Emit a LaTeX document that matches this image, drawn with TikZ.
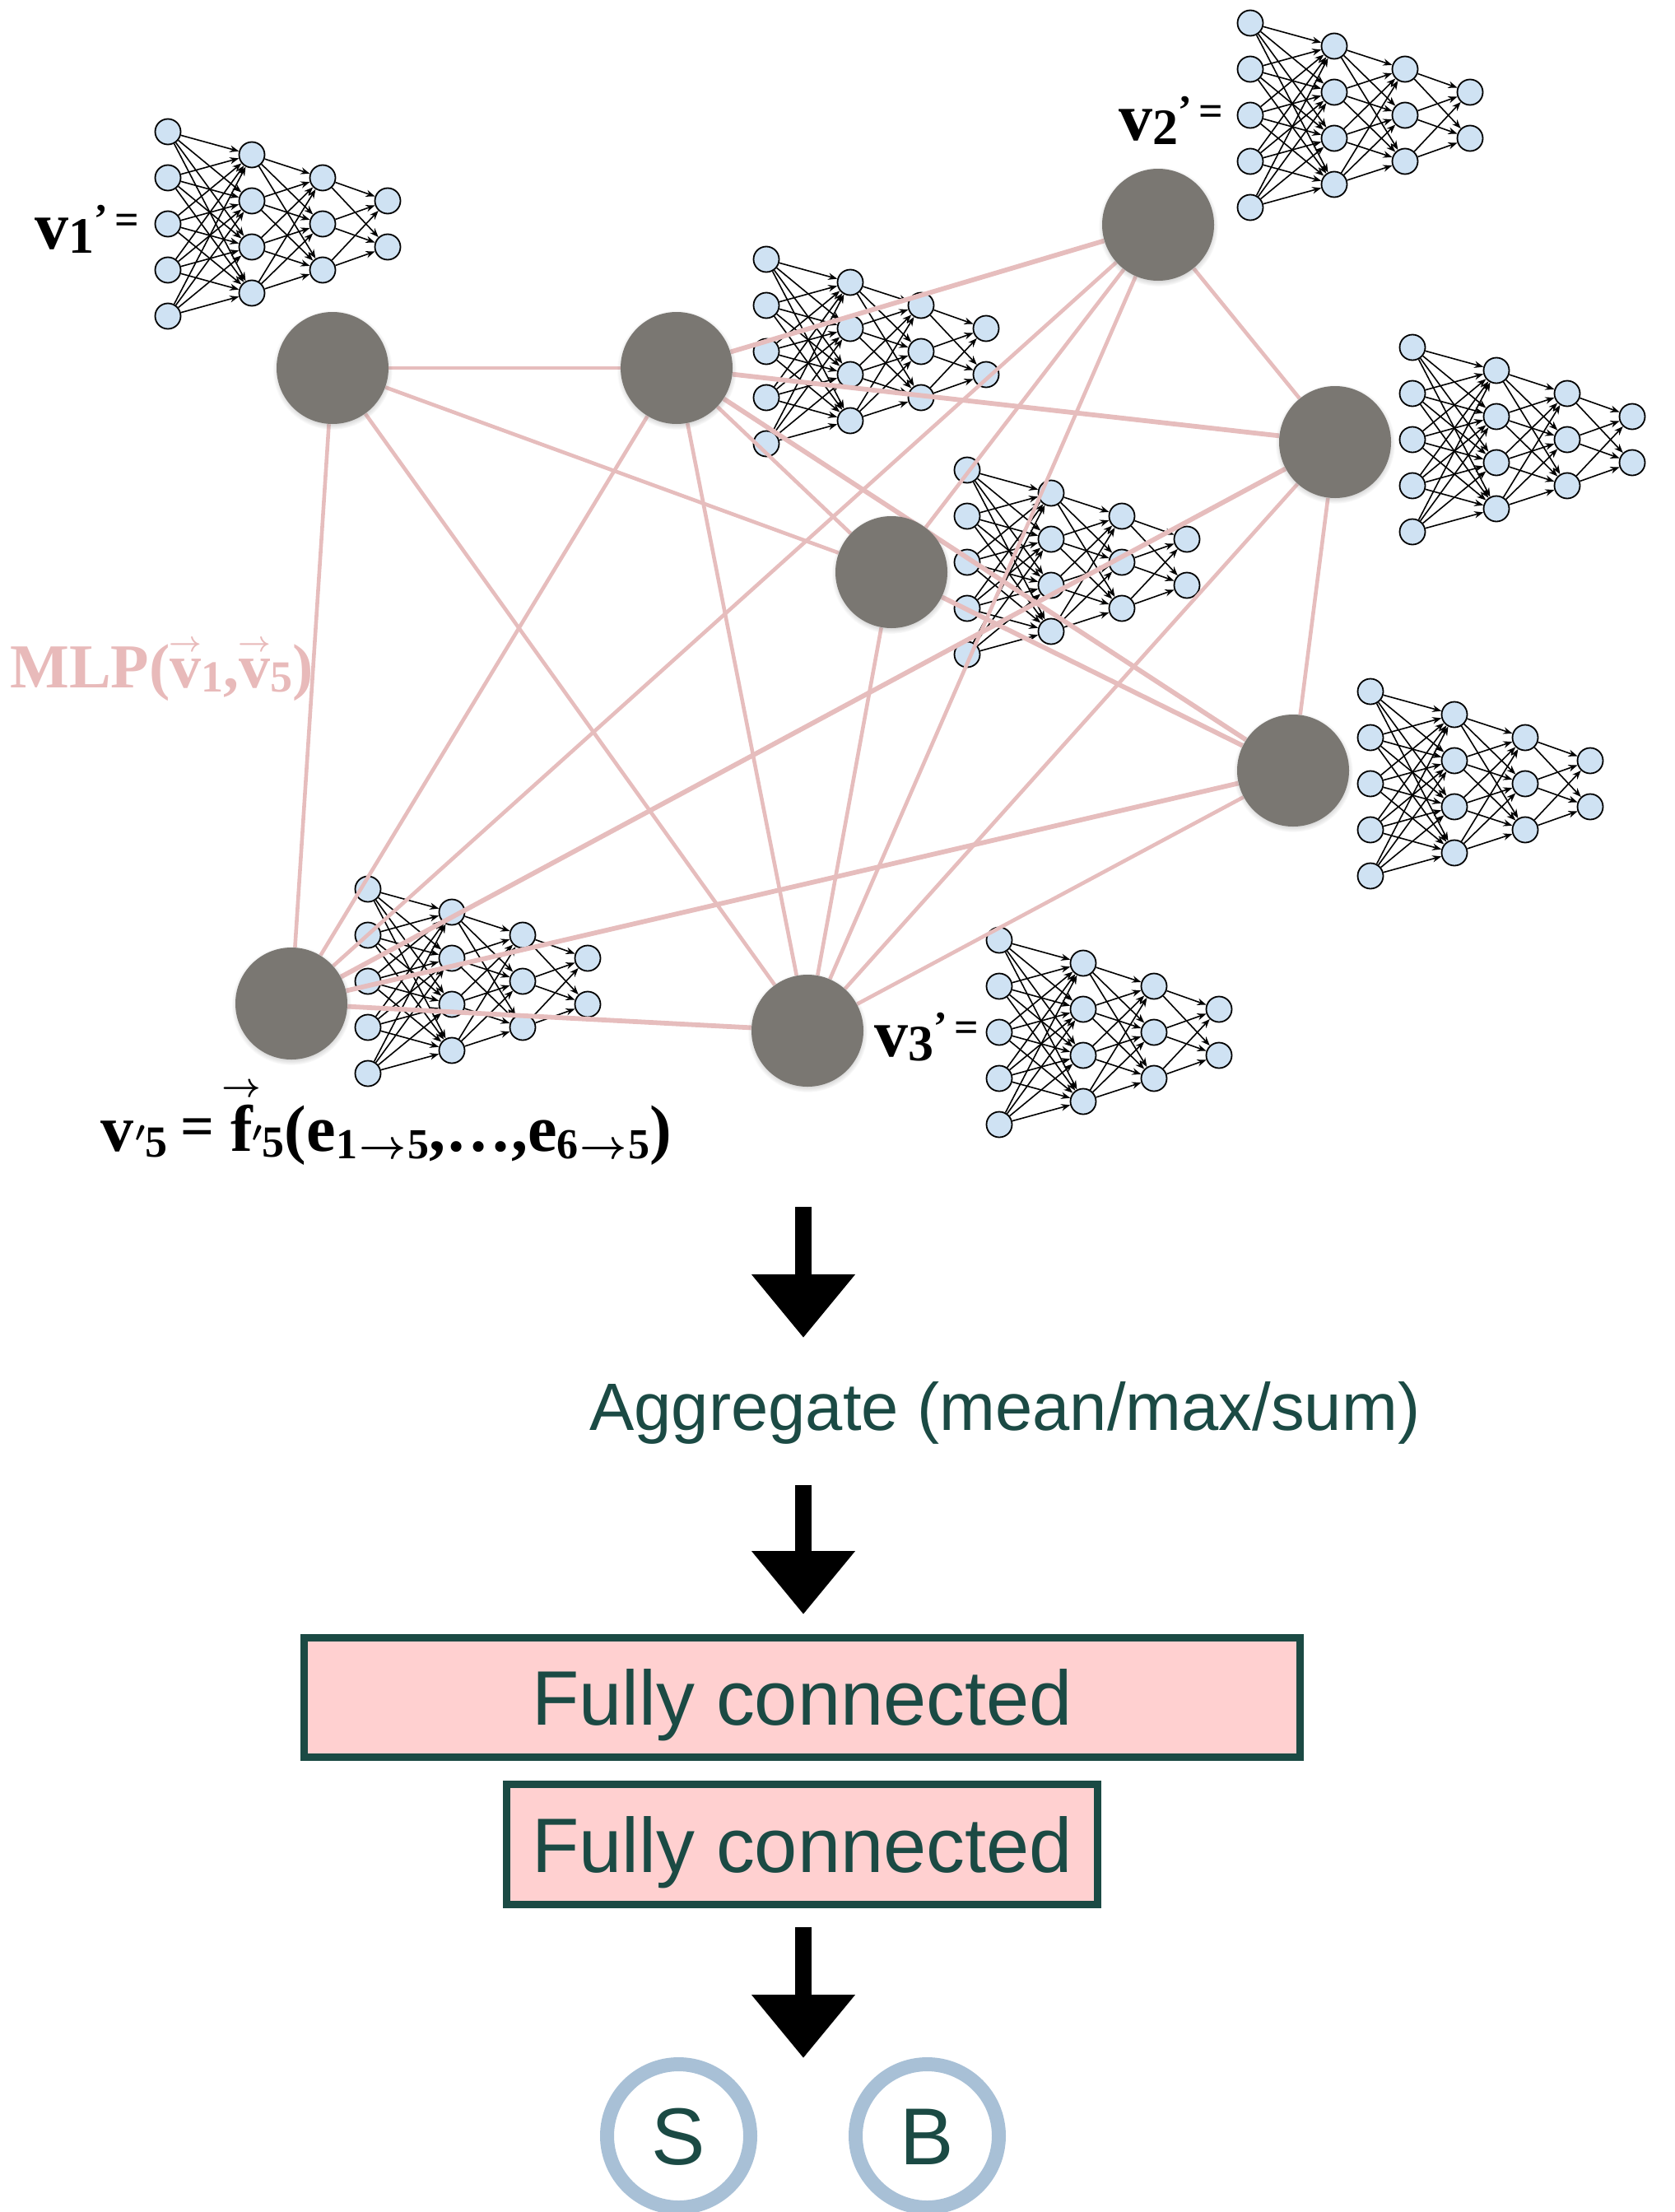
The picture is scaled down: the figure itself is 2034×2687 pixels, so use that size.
\documentclass[tikz,border=0pt]{standalone}
\usepackage{fontspec}
\usepackage{amsmath}
\setmainfont{Liberation Serif}
\newfontfamily\sansf{Liberation Sans}
\usetikzlibrary{arrows.meta,shadows}
\definecolor{gnode}{RGB}{122,119,114}
\definecolor{epink}{RGB}{230,189,189}
\definecolor{lpink}{RGB}{232,186,186}
\definecolor{nblue}{RGB}{207,226,243}
\definecolor{dteal}{RGB}{27,74,68}
\definecolor{boxpink}{RGB}{255,208,208}
\definecolor{ringc}{RGB}{168,192,214}
\pgfdeclarelayer{mlpl}
\pgfdeclarelayer{edgel}
\pgfsetlayers{mlpl,edgel,main}
\newcommand\fcfont{\sansf\fontsize{46.9}{50}\selectfont}
\newcommand\aggfont{\sansf\fontsize{40.7}{44}\selectfont}
\newcommand\outfont{\sansf\fontsize{49}{52}\selectfont}
\newcommand\vlabel[1]{{\fontsize{41}{41}\selectfont v}\raisebox{-2.5pt}{\fontsize{31}{31}\selectfont #1}\raisebox{10pt}{\fontsize{25}{25}\selectfont ’}\kern4pt\raisebox{9pt}{\fontsize{26}{26}\selectfont =}}
\newcommand\arrowover[3]{\setbox0=\hbox{#3}\hbox to \wd0{\hss\raisebox{#1}[0pt][0pt]{\fontsize{#2}{#2}\selectfont\boldmath$\rightarrow$}\hss}\kern-\wd0\box0}
\newcommand\primemark{\raisebox{6pt}{\fontsize{18}{18}\selectfont\boldmath$\prime$}}
\tikzset{
  nn/.style={circle,draw=black,line width=0.9pt,fill=nblue,minimum size=15.5pt,inner sep=0pt},
  nnarrow/.style={line width=0.8pt,-{Stealth[length=5.5pt,width=4.2pt]}},
  gnodest/.style={circle,fill=gnode,minimum size=68pt,inner sep=0pt,
    circular drop shadow={shadow xshift=0pt,shadow yshift=-1pt,shadow scale=1.07,opacity=0.45}},
  gedge/.style={draw=epink,line width=2.3pt},
  gedgeb/.style={draw=epink,line width=2.9pt},
  bigarrow/.style={line width=10pt,-{Triangle[width=60.5pt,length=38.5pt]}},
  fcbox/.style={draw=dteal,line width=4.5pt,fill=boxpink,inner sep=0pt,font=\fcfont,text=dteal,text height=33.6pt,text depth=0pt},
  outc/.style={circle,draw=ringc,line width=8.5pt,minimum size=87pt,inner sep=0pt,font=\outfont,text=dteal,text height=35pt,text depth=0pt},
  vlab/.style={anchor=base west,inner sep=0pt,font=\bfseries},
}
\newcommand\mlp[3]{%
  \begin{scope}[shift={(#2,#3)}]
    \foreach \i in {1,...,5} \node[nn] (#1-a\i) at (0,{(\i-3)*56}) {};
    \foreach \i in {1,...,4} \node[nn] (#1-b\i) at (102,{(\i-2.5)*56}) {};
    \foreach \i in {1,...,3} \node[nn] (#1-c\i) at (188,{(\i-2)*56}) {};
    \foreach \i in {1,2} \node[nn] (#1-d\i) at (267,{(\i-1.5)*56}) {};
    \foreach \i in {1,...,5}{\foreach \j in {1,...,4}{\draw[nnarrow] (#1-a\i) -- (#1-b\j);}}
    \foreach \i in {1,...,4}{\foreach \j in {1,...,3}{\draw[nnarrow] (#1-b\i) -- (#1-c\j);}}
    \foreach \i in {1,...,3}{\foreach \j in {1,2}{\draw[nnarrow] (#1-c\i) -- (#1-d\j);}}
  \end{scope}}
\begin{document}
\begin{tikzpicture}[x=0.5pt,y=-0.5pt]
\useasboundingbox (0,0) rectangle (2034,2687);
% MLP icons
\begin{pgfonlayer}{mlpl}
\mlp{m1}{204}{272}
\mlp{m2}{1519}{140}
\mlp{mb}{931}{427}
\mlp{md}{1716}{534}
\mlp{me}{1175}{683}
\mlp{mf}{1665}{952}
\mlp{m5}{447}{1192}
\mlp{m3}{1214}{1254}
\end{pgfonlayer}
% graph nodes
\node[gnodest] (v1) at (404,447) {};
\node[gnodest] (vb) at (822,447) {};
\node[gnodest] (v2) at (1407,273) {};
\node[gnodest] (vd) at (1622,537) {};
\node[gnodest] (ve) at (1083,695) {};
\node[gnodest] (vf) at (1571,936) {};
\node[gnodest] (v5) at (354,1219) {};
\node[gnodest] (v3) at (981,1252) {};
% edges
\begin{pgfonlayer}{edgel}
\foreach \a/\b in {v1/vb,v1/ve,v1/v3,v1/v5,vb/ve,vb/v3,vb/v5,v2/v5,v2/ve,v2/v3,v2/vd,vd/vf,vd/v3,ve/v3,vf/v3}
  \draw[gedge] (\a) -- (\b);
\foreach \a/\b in {vb/v2,vb/vd,vb/vf,vd/v5,ve/vf,vf/v5,v5/v3}
  \draw[gedgeb] (\a) -- (\b);
\end{pgfonlayer}
% labels
\node[vlab] (l1) at (42,302) {\vlabel{1}};
\node[vlab] (l2) at (1359,170) {\vlabel{2}};
\node[vlab] (l3) at (1062,1283) {\vlabel{3}};
\node[anchor=base west,inner sep=0pt,text=lpink,font=\bfseries\fontsize{38}{38}\selectfont] (mlplab) at (12,835)
  {MLP(\arrowover{22pt}{19}{v}\raisebox{-2.5pt}{\fontsize{27}{27}\selectfont 1},\arrowover{22pt}{19}{v}\raisebox{-2.5pt}{\fontsize{27}{27}\selectfont 5})};
\node[anchor=base west,inner sep=0pt,font=\bfseries\fontsize{40}{40}\selectfont] (l5) at (122,1398)
  {v\kern1pt\primemark\raisebox{-3.5pt}{\fontsize{27}{27}\selectfont 5}\kern8pt\raisebox{3pt}{\fontsize{36}{36}\selectfont =}\kern10pt\arrowover{33pt}{20}{f}\primemark\raisebox{-3.5pt}{\fontsize{27}{27}\selectfont 5}(e\raisebox{-4.5pt}{\fontsize{26}{26}\selectfont 1\kern1pt\boldmath$\rightarrow$\kern1pt5},…,e\raisebox{-4.5pt}{\fontsize{26}{26}\selectfont 6\kern1pt\boldmath$\rightarrow$\kern1pt5})};
% lower part
\coordinate (a1s) at (976,1466); \coordinate (a1e) at (976,1625);
\coordinate (a2s) at (976,1804); \coordinate (a2e) at (976,1961);
\coordinate (a3s) at (976,2341); \coordinate (a3e) at (976,2500);
\draw[bigarrow] (a1s) -- (a1e);
\draw[bigarrow] (a2s) -- (a2e);
\draw[bigarrow] (a3s) -- (a3e);
\node[anchor=base west,inner sep=0pt,font=\aggfont,text=dteal] (agg) at (716,1737) {Aggregate (mean/max/sum)};
\node[fcbox,minimum width=605pt,minimum height=72.5pt] (fc1) at (974.5,2062) {Fully connected};
\node[fcbox,minimum width=359pt,minimum height=73pt] (fc2) at (974.5,2240.5) {Fully connected};
\node[outc] (outS) at (824.5,2594.5) {S};
\node[outc] (outB) at (1126.5,2594.5) {B};
\end{tikzpicture}
\end{document}
